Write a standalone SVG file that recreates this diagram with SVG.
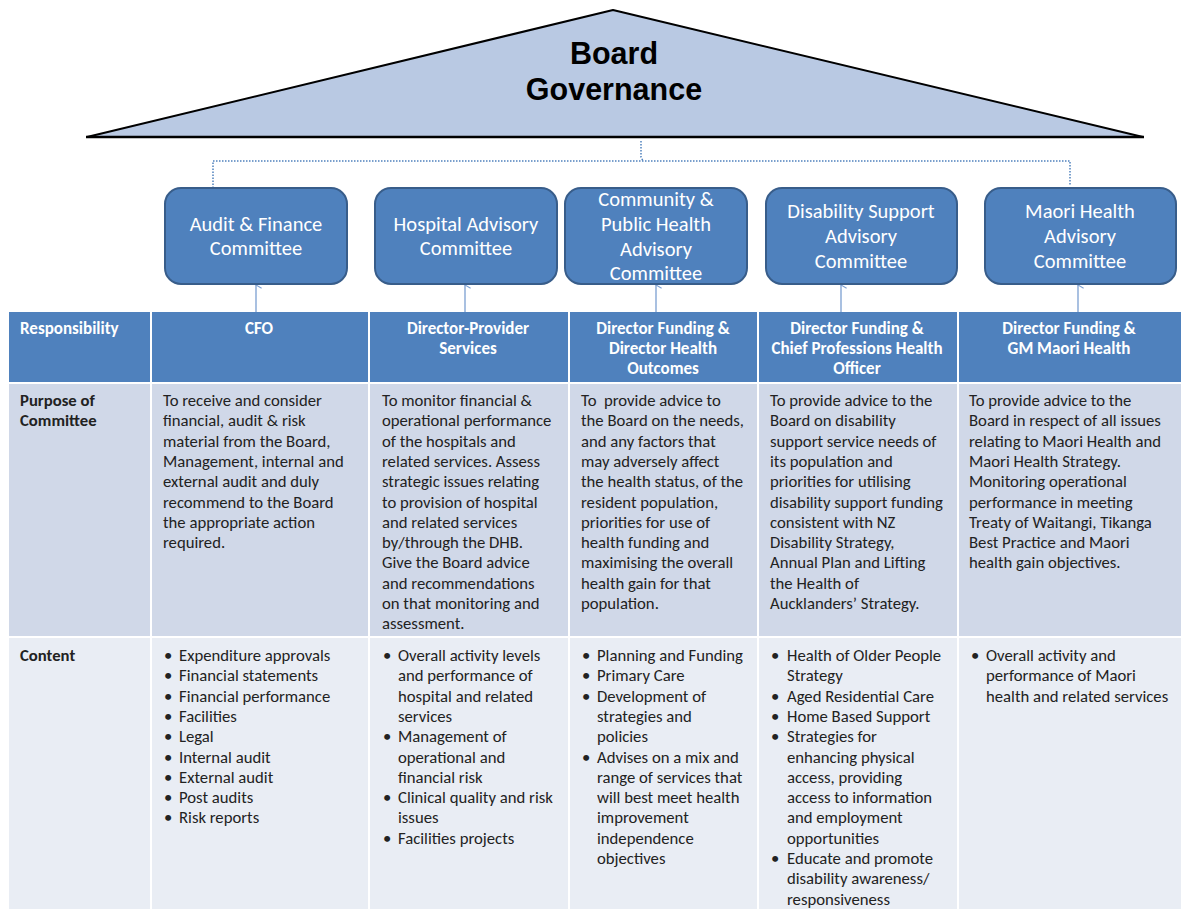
<svg xmlns="http://www.w3.org/2000/svg" width="1181" height="909" viewBox="0 0 1181 909">
<style>
.t{font-family:Carlito,Lato,"Open Sans",sans-serif;font-size:16.7px;fill:#222}
.b{font-weight:bold}
.h{font-family:Carlito,Lato,"Open Sans",sans-serif;font-size:17px;font-weight:bold;fill:#fff;text-anchor:middle}
.bx{fill:#4f81bd;stroke:#385d8a;stroke-width:2}
.bt{font-family:Carlito,Lato,"Open Sans",sans-serif;font-size:20.5px;fill:#fff;text-anchor:middle}
.hd{fill:#4f81bd}
.r2{fill:#d0d8e8}
.r3{fill:#e9edf4}
.dot{fill:none;stroke:#4f81bd;stroke-width:1.5;stroke-dasharray:1.5 1.5}
.arr{fill:none;stroke:#7b9fd1;stroke-width:1.3}
</style>
<defs>
<marker id="ah" viewBox="0 0 10 10" refX="5" refY="1" markerWidth="8" markerHeight="8" orient="auto-start-reverse" markerUnits="userSpaceOnUse">
<path d="M1,8 L5,1 L9,8" fill="none" stroke="#7b9fd1" stroke-width="1.3"/>
</marker>
</defs>
<rect width="1181" height="909" fill="#fff"/>
<g id="board">
<polygon points="87,137 613,10 1143,137" fill="#b9c9e3" stroke="#000" stroke-width="2" stroke-linejoin="round"/>
<line x1="86" y1="137" x2="1144" y2="137" stroke="#000" stroke-width="2.5"/>
<text x="614" y="64" font-family="'Liberation Sans',Arial,sans-serif" font-size="30.5" font-weight="bold" text-anchor="middle" fill="#000">Board</text>
<text x="614" y="100" font-family="'Liberation Sans',Arial,sans-serif" font-size="30.5" font-weight="bold" text-anchor="middle" fill="#000">Governance</text>
</g>
<g id="connectors">
<path class="dot" d="M641,141 L641,157 L643,161 M213,188 L213,161 L1070,161 L1070,186"/>
<line class="arr" x1="256" y1="312" x2="256" y2="285" marker-end="url(#ah)"/>
<line class="arr" x1="465" y1="312" x2="465" y2="285" marker-end="url(#ah)"/>
<line class="arr" x1="656" y1="312" x2="656" y2="285" marker-end="url(#ah)"/>
<line class="arr" x1="841" y1="312" x2="841" y2="285" marker-end="url(#ah)"/>
<line class="arr" x1="1078" y1="312" x2="1078" y2="285" marker-end="url(#ah)"/>
</g>
<g id="audit">
<rect class="bx" x="165" y="188" width="182" height="96" rx="16"/>
<text class="bt" x="256" y="231">Audit &amp; Finance</text>
<text class="bt" x="256" y="255">Committee</text>
</g>
<g id="hospital">
<rect class="bx" x="375" y="188" width="182" height="96" rx="16"/>
<text class="bt" x="466" y="231">Hospital Advisory</text>
<text class="bt" x="466" y="255">Committee</text>
</g>
<g id="community">
<rect class="bx" x="565" y="188" width="182" height="96" rx="16"/>
<text class="bt" x="656" y="206">Community &amp;</text>
<text class="bt" x="656" y="231">Public Health</text>
<text class="bt" x="656" y="256">Advisory</text>
<text class="bt" x="656" y="280">Committee</text>
</g>
<g id="disability">
<rect class="bx" x="766" y="188" width="191" height="96" rx="16"/>
<text class="bt" x="861" y="218">Disability Support</text>
<text class="bt" x="861" y="243">Advisory</text>
<text class="bt" x="861" y="268">Committee</text>
</g>
<g id="maori">
<rect class="bx" x="985" y="188" width="191" height="96" rx="16"/>
<text class="bt" x="1080" y="218">Maori Health</text>
<text class="bt" x="1080" y="243">Advisory</text>
<text class="bt" x="1080" y="268">Committee</text>
</g>
<g id="table">
<rect class="hd" x="9" y="312" width="141" height="70"/>
<rect class="hd" x="152" y="312" width="216" height="70"/>
<rect class="hd" x="370" y="312" width="198" height="70"/>
<rect class="hd" x="570" y="312" width="187" height="70"/>
<rect class="hd" x="759" y="312" width="198" height="70"/>
<rect class="hd" x="959" y="312" width="222" height="70"/>
<rect class="r2" x="9" y="384" width="141" height="252"/>
<rect class="r2" x="152" y="384" width="216" height="252"/>
<rect class="r2" x="370" y="384" width="198" height="252"/>
<rect class="r2" x="570" y="384" width="187" height="252"/>
<rect class="r2" x="759" y="384" width="198" height="252"/>
<rect class="r2" x="959" y="384" width="222" height="252"/>
<rect class="r3" x="9" y="638" width="141" height="271"/>
<rect class="r3" x="152" y="638" width="216" height="271"/>
<rect class="r3" x="370" y="638" width="198" height="271"/>
<rect class="r3" x="570" y="638" width="187" height="271"/>
<rect class="r3" x="759" y="638" width="198" height="271"/>
<rect class="r3" x="959" y="638" width="222" height="271"/>
<text class="h" x="20" y="334" style="text-anchor:start">Responsibility</text>
<text class="h" x="259" y="334">CFO</text>
<text class="h" x="468" y="334">Director-Provider<tspan x="468" y="354">Services</tspan></text>
<text class="h" x="663" y="334">Director Funding &amp;<tspan x="663" y="354">Director Health</tspan><tspan x="663" y="374">Outcomes</tspan></text>
<text class="h" x="857" y="334">Director Funding &amp;<tspan x="857" y="354">Chief Professions Health</tspan><tspan x="857" y="374">Officer</tspan></text>
<text class="h" x="1069" y="334">Director Funding &amp;<tspan x="1069" y="354">GM Maori Health</tspan></text>
<text class="t b" x="20" y="406">Purpose of<tspan x="20" y="426.3">Committee</tspan></text>
<text class="t b" x="20" y="661">Content</text>
<text class="t" x="163" y="406">To receive and consider<tspan x="163" y="426.3">financial, audit &amp; risk</tspan><tspan x="163" y="446.6">material from the Board,</tspan><tspan x="163" y="466.9">Management, internal and</tspan><tspan x="163" y="487.2">external audit and duly</tspan><tspan x="163" y="507.5">recommend to the Board</tspan><tspan x="163" y="527.8">the appropriate action</tspan><tspan x="163" y="548.1">required.</tspan></text>
<text class="t" x="382" y="406">To monitor financial &amp;<tspan x="382" y="426.3">operational performance</tspan><tspan x="382" y="446.6">of the hospitals and</tspan><tspan x="382" y="466.9">related services. Assess</tspan><tspan x="382" y="487.2">strategic issues relating</tspan><tspan x="382" y="507.5">to provision of hospital</tspan><tspan x="382" y="527.8">and related services</tspan><tspan x="382" y="548.1">by/through the DHB.</tspan><tspan x="382" y="568.4">Give the Board advice</tspan><tspan x="382" y="588.7">and recommendations</tspan><tspan x="382" y="609">on that monitoring and</tspan><tspan x="382" y="629.3">assessment.</tspan></text>
<text class="t" x="581" y="406" xml:space="preserve">To  provide advice to<tspan x="581" y="426.3">the Board on the needs,</tspan><tspan x="581" y="446.6">and any factors that</tspan><tspan x="581" y="466.9">may adversely affect</tspan><tspan x="581" y="487.2">the health status, of the</tspan><tspan x="581" y="507.5">resident population,</tspan><tspan x="581" y="527.8">priorities for use of</tspan><tspan x="581" y="548.1">health funding and</tspan><tspan x="581" y="568.4">maximising the overall</tspan><tspan x="581" y="588.7">health gain for that</tspan><tspan x="581" y="609">population.</tspan></text>
<text class="t" x="770" y="406">To provide advice to the<tspan x="770" y="426.3">Board on disability</tspan><tspan x="770" y="446.6">support service needs of</tspan><tspan x="770" y="466.9">its population and</tspan><tspan x="770" y="487.2">priorities for utilising</tspan><tspan x="770" y="507.5">disability support funding</tspan><tspan x="770" y="527.8">consistent with NZ</tspan><tspan x="770" y="548.1">Disability Strategy,</tspan><tspan x="770" y="568.4">Annual Plan and Lifting</tspan><tspan x="770" y="588.7">the Health of</tspan><tspan x="770" y="609">Aucklanders’ Strategy.</tspan></text>
<text class="t" x="969" y="406">To provide advice to the<tspan x="969" y="426.3">Board in respect of all issues</tspan><tspan x="969" y="446.6">relating to Maori Health and</tspan><tspan x="969" y="466.9">Maori Health Strategy.</tspan><tspan x="969" y="487.2">Monitoring operational</tspan><tspan x="969" y="507.5">performance in meeting</tspan><tspan x="969" y="527.8">Treaty of Waitangi, Tikanga</tspan><tspan x="969" y="548.1">Best Practice and Maori</tspan><tspan x="969" y="568.4">health gain objectives.</tspan></text>
<text class="t" x="164" y="661">•<tspan x="164" y="681.3">•</tspan><tspan x="164" y="701.6">•</tspan><tspan x="164" y="721.9">•</tspan><tspan x="164" y="742.2">•</tspan><tspan x="164" y="762.5">•</tspan><tspan x="164" y="782.8">•</tspan><tspan x="164" y="803.1">•</tspan><tspan x="164" y="823.4">•</tspan></text>
<text class="t" x="179" y="661">Expenditure approvals<tspan x="179" y="681.3">Financial statements</tspan><tspan x="179" y="701.6">Financial performance</tspan><tspan x="179" y="721.9">Facilities</tspan><tspan x="179" y="742.2">Legal</tspan><tspan x="179" y="762.5">Internal audit</tspan><tspan x="179" y="782.8">External audit</tspan><tspan x="179" y="803.1">Post audits</tspan><tspan x="179" y="823.4">Risk reports</tspan></text>
<text class="t" x="383" y="661">•<tspan x="383" y="742.2">•</tspan><tspan x="383" y="803.1">•</tspan><tspan x="383" y="843.7">•</tspan></text>
<text class="t" x="398" y="661">Overall activity levels<tspan x="398" y="681.3">and performance of</tspan><tspan x="398" y="701.6">hospital and related</tspan><tspan x="398" y="721.9">services</tspan><tspan x="398" y="742.2">Management of</tspan><tspan x="398" y="762.5">operational and</tspan><tspan x="398" y="782.8">financial risk</tspan><tspan x="398" y="803.1">Clinical quality and risk</tspan><tspan x="398" y="823.4">issues</tspan><tspan x="398" y="843.7">Facilities projects</tspan></text>
<text class="t" x="582" y="661">•<tspan x="582" y="681.3">•</tspan><tspan x="582" y="701.6">•</tspan><tspan x="582" y="762.5">•</tspan></text>
<text class="t" x="597" y="661">Planning and Funding<tspan x="597" y="681.3">Primary Care</tspan><tspan x="597" y="701.6">Development of</tspan><tspan x="597" y="721.9">strategies and</tspan><tspan x="597" y="742.2">policies</tspan><tspan x="597" y="762.5">Advises on a mix and</tspan><tspan x="597" y="782.8">range of services that</tspan><tspan x="597" y="803.1">will best meet health</tspan><tspan x="597" y="823.4">improvement</tspan><tspan x="597" y="843.7">independence</tspan><tspan x="597" y="864">objectives</tspan></text>
<text class="t" x="771" y="661">•<tspan x="771" y="701.6">•</tspan><tspan x="771" y="721.9">•</tspan><tspan x="771" y="742.2">•</tspan><tspan x="771" y="864">•</tspan></text>
<text class="t" x="787" y="661">Health of Older People<tspan x="787" y="681.3">Strategy</tspan><tspan x="787" y="701.6">Aged Residential Care</tspan><tspan x="787" y="721.9">Home Based Support</tspan><tspan x="787" y="742.2">Strategies for</tspan><tspan x="787" y="762.5">enhancing physical</tspan><tspan x="787" y="782.8">access, providing</tspan><tspan x="787" y="803.1">access to information</tspan><tspan x="787" y="823.4">and employment</tspan><tspan x="787" y="843.7">opportunities</tspan><tspan x="787" y="864">Educate and promote</tspan><tspan x="787" y="884.3">disability awareness/</tspan><tspan x="787" y="904.6">responsiveness</tspan></text>
<text class="t" x="971" y="661">•</text>
<text class="t" x="986" y="661">Overall activity and<tspan x="986" y="681.3">performance of Maori</tspan><tspan x="986" y="701.6">health and related services</tspan></text>
</g>
</svg>
